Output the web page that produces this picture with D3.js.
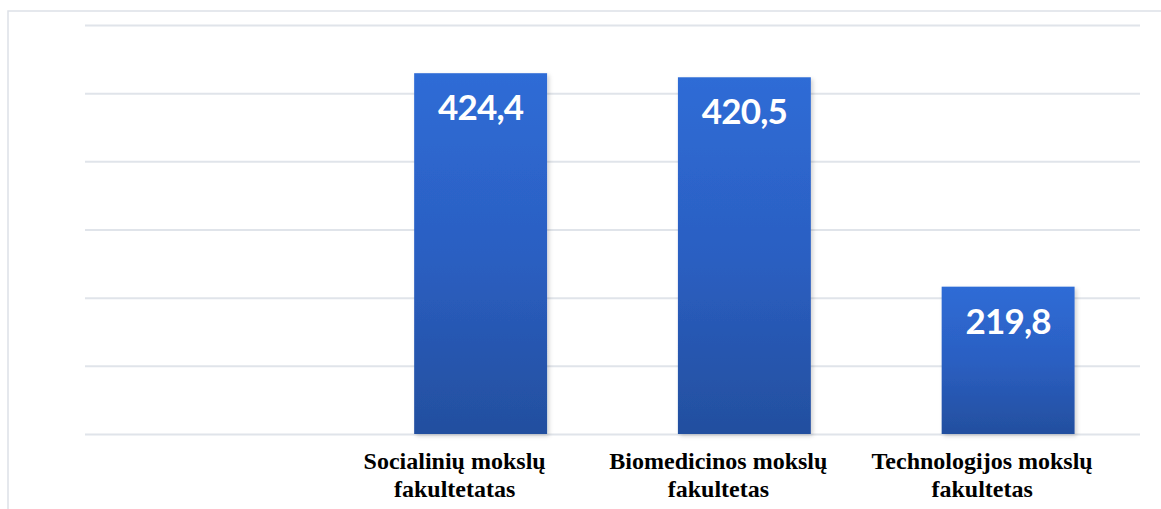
<!DOCTYPE html>
<html>
<head>
<meta charset="utf-8">
<script src="https://cdn.jsdelivr.net/npm/d3@7/dist/d3.min.js"></script>
<style>
  html, body { margin: 0; padding: 0; background: #ffffff; }
  svg { display: block; }
</style>
</head>
<body>
<svg id="chart" width="1161" height="509"></svg>
<script>
// ---- data ----
const categories = ["", "Socialinių mokslų fakultetatas", "Biomedicinos mokslų fakultetas", "Technologijos mokslų fakultetas"];
const categoryLines = [[], ["Socialinių mokslų", "fakultetatas"], ["Biomedicinos mokslų", "fakultetas"], ["Technologijos mokslų", "fakultetas"]];
const values = [null, 424.4, 420.5, 219.8];
const valueLabels = ["", "424,4", "420,5", "219,8"];
const yDomain = [78.6, 470.6];
const gridCount = 6;

// ---- layout ----
const svg = d3.select("#chart");
const W = 1161, H = 509;
const plot = { left: 85, right: 1140, top: 25, bottom: 434 };

const defs = svg.append("defs");
const grad = defs.append("linearGradient").attr("id", "barGrad")
  .attr("x1", 0).attr("y1", 0).attr("x2", 0).attr("y2", 1);
grad.append("stop").attr("offset", "0%").attr("stop-color", "#2f6cd6");
grad.append("stop").attr("offset", "50%").attr("stop-color", "#2b5fc2");
grad.append("stop").attr("offset", "100%").attr("stop-color", "#234f9f");

const shadow = defs.append("filter").attr("id", "shadow")
  .attr("x", "-10%").attr("y", "-10%").attr("width", "130%").attr("height", "130%");
shadow.append("feDropShadow").attr("dx", 2).attr("dy", 2).attr("stdDeviation", 2)
  .attr("flood-color", "#000").attr("flood-opacity", 0.18);

// frame
svg.append("rect").attr("x", 8).attr("y", 11).attr("width", W + 20).attr("height", H + 20)
  .attr("fill", "none").attr("stroke", "#dde1e7").attr("stroke-width", 1.5);

const x = d3.scaleBand().domain(categories).range([plot.left, plot.right])
  .paddingInner(0.496).paddingOuter(0.248);
const y = d3.scaleLinear().domain(yDomain).range([plot.bottom, plot.top]);

// gridlines
const gridVals = d3.range(gridCount + 1).map(i => yDomain[0] + i * (yDomain[1] - yDomain[0]) / gridCount);
const yAxis = d3.axisLeft(y).tickValues(gridVals).tickSize(-(plot.right - plot.left)).tickFormat("");
const gAxis = svg.append("g").attr("transform", `translate(${plot.left},0)`).call(yAxis);
gAxis.select(".domain").remove();
gAxis.selectAll(".tick line").attr("stroke", "#e0e4ea").attr("stroke-width", 2);

// bars
const barData = categories.map((c, i) => ({ c, v: values[i], label: valueLabels[i], lines: categoryLines[i] }));
svg.append("g").selectAll("rect").data(barData.filter(d => d.v != null)).join("rect")
  .attr("x", d => x(d.c))
  .attr("y", d => y(d.v))
  .attr("width", x.bandwidth())
  .attr("height", d => y(yDomain[0]) - y(d.v))
  .attr("fill", "url(#barGrad)")
  .attr("filter", "url(#shadow)");

// value labels
svg.append("g").selectAll("text").data(barData.filter(d => d.v != null)).join("text")
  .attr("x", d => x(d.c) + x.bandwidth() / 2)
  .attr("y", d => y(d.v) + 47)
  .attr("text-anchor", "middle")
  .attr("fill", "#ffffff")
  .attr("font-family", "Lato, 'Open Sans', sans-serif")
  .attr("font-weight", 700)
  .attr("font-size", 35)
  .attr("letter-spacing", -0.8)
  .text(d => d.label);

// category labels
const cl = svg.append("g").selectAll("text").data(barData).join("text")
  .attr("text-anchor", "middle")
  .attr("font-family", "'Liberation Serif', 'Times New Roman', serif")
  .attr("font-weight", 700)
  .attr("font-size", 24)
  .attr("fill", "#000");
cl.each(function(d) {
  const t = d3.select(this);
  const cx = x(d.c) + x.bandwidth() / 2 - 26;
  d.lines.forEach((ln, j) => {
    t.append("tspan").attr("x", cx).attr("y", 469 + j * 28).text(ln);
  });
});
</script>
</body>
</html>
